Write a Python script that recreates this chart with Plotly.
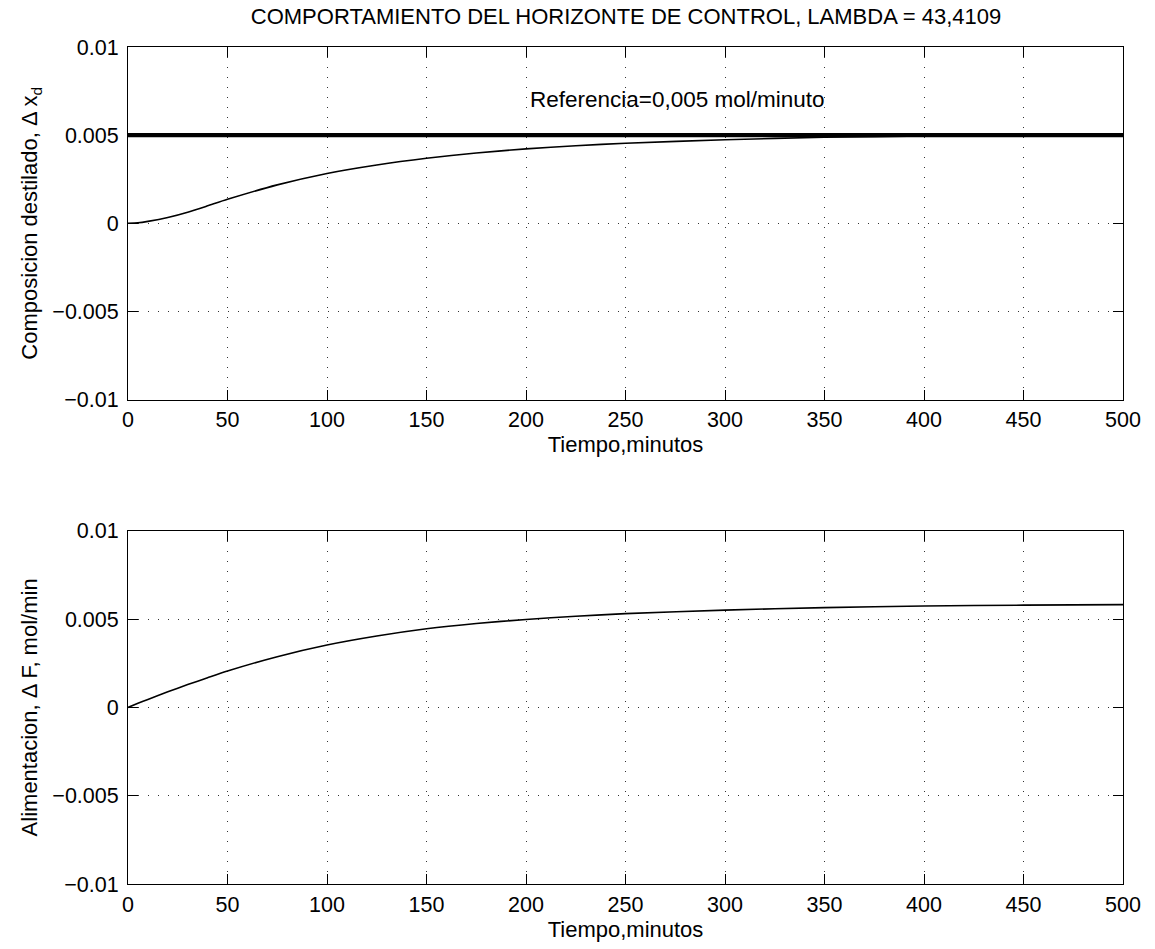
import plotly.graph_objects as go
from plotly.subplots import make_subplots

# Time samples (minutes)
tiempo = [0, 5, 10, 20, 30, 40, 50, 75, 100, 125, 150, 175, 200, 225, 250, 300, 350, 400, 450, 500]

# Distillate composition response, delta x_d
comp_destilado = [0.0, 0.00003, 0.00011, 0.00033, 0.00063, 0.00099, 0.00136, 0.00218,
                  0.00283, 0.00331, 0.00369, 0.00399, 0.00422, 0.00440, 0.00454,
                  0.00474, 0.00488, 0.00495, 0.00498, 0.00499]

# Feed manipulation, delta F
alimentacion = [0.0, 0.00023, 0.00045, 0.00088, 0.00129, 0.00168, 0.00206, 0.00287,
                0.00353, 0.00404, 0.00445, 0.00475, 0.00498, 0.00516, 0.00531,
                0.00551, 0.00565, 0.00574, 0.00579, 0.00582]

# Setpoint
ref_t = [0, 500]
ref_val = [0.005, 0.005]

x_ticks = [0, 50, 100, 150, 200, 250, 300, 350, 400, 450, 500]
y_ticks = [-0.01, -0.005, 0, 0.005, 0.01]
y_tick_text = ["\u22120.01", "\u22120.005", "0", "0.005", "0.01"]

FONT = "Liberation Sans, Arial, sans-serif"
FS = 22
FS_TICK = 21.5

fig = make_subplots(rows=2, cols=1, vertical_spacing=0.1565)

fig.add_trace(go.Scatter(x=ref_t, y=ref_val, mode="lines",
                         line=dict(color="black", width=4.2), showlegend=False), row=1, col=1)
fig.add_trace(go.Scatter(x=tiempo, y=comp_destilado, mode="lines",
                         line=dict(color="black", width=1.6, shape="spline", smoothing=0.6),
                         showlegend=False), row=1, col=1)
fig.add_trace(go.Scatter(x=tiempo, y=alimentacion, mode="lines",
                         line=dict(color="black", width=1.6, shape="spline", smoothing=0.6),
                         showlegend=False), row=2, col=1)

axis_common = dict(
    showline=True, linecolor="black", linewidth=1, mirror="allticks",
    ticks="inside", ticklen=10, tickcolor="black", tickwidth=1,
    showgrid=True, gridcolor="#333333", gridwidth=1, griddash="1px,9px",
    zeroline=False, tickfont=dict(family=FONT, size=FS_TICK, color="black"),
)

for r in (1, 2):
    fig.update_xaxes(range=[0, 500], tickvals=x_ticks, ticklabelstandoff=1,
                     title=dict(text="Tiempo,minutos", standoff=4,
                                font=dict(family=FONT, size=FS, color="black")),
                     row=r, col=1, **axis_common)
    fig.update_yaxes(range=[-0.01, 0.01], tickvals=y_ticks, ticktext=y_tick_text,
                     ticklabelstandoff=4, row=r, col=1, **axis_common)

fig.update_yaxes(title=dict(text="Composicion destilado, \u0394 x<sub>d</sub>", standoff=8,
                            font=dict(family=FONT, size=FS, color="black")), row=1, col=1)
fig.update_yaxes(title=dict(text="Alimentacion, \u0394 F, mol/min", standoff=8,
                            font=dict(family=FONT, size=FS, color="black")), row=2, col=1)

fig.update_layout(
    width=1155, height=949,
    margin=dict(l=127.5, r=32, t=46.5, b=64.7),
    paper_bgcolor="white", plot_bgcolor="white",
    font=dict(family=FONT, size=FS, color="black"),
    title=dict(text="COMPORTAMIENTO DEL HORIZONTE DE CONTROL, LAMBDA = 43,4109",
               x=0.542, xanchor="center", y=0.983, yanchor="middle",
               font=dict(family=FONT, size=FS, color="black")),
)
fig.update_layout(yaxis=dict(domain=[0.5787, 1.0]), yaxis2=dict(domain=[0.0, 0.422]))

fig.add_annotation(text="Referencia=0,005 mol/minuto", x=276, y=0.0070,
                   xref="x", yref="y", xanchor="center", yanchor="middle", showarrow=False,
                   font=dict(family=FONT, size=22.5, color="black"))

fig.write_html("out.html")
